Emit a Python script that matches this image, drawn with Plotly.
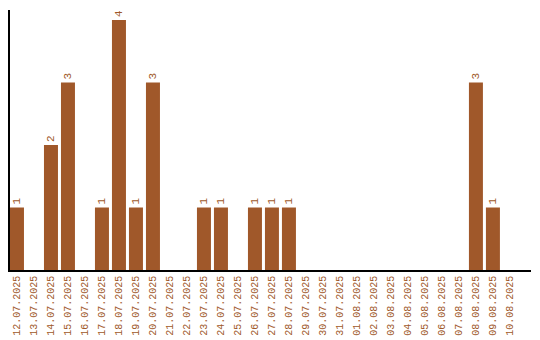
import plotly.graph_objects as go

dates = ["12.07.2025","13.07.2025","14.07.2025","15.07.2025","16.07.2025","17.07.2025",
         "18.07.2025","19.07.2025","20.07.2025","21.07.2025","22.07.2025","23.07.2025",
         "24.07.2025","25.07.2025","26.07.2025","27.07.2025","28.07.2025","29.07.2025",
         "30.07.2025","31.07.2025","01.08.2025","02.08.2025","03.08.2025","04.08.2025",
         "05.08.2025","06.08.2025","07.08.2025","08.08.2025","09.08.2025","10.08.2025"]
counts = [1,0,2,3,0,1,4,1,3,0,0,1,1,0,1,1,1,0,0,0,0,0,0,0,0,0,0,3,1,0]

color = "#A0582A"
labels = [str(v) if v > 0 else "" for v in counts]
font = "Liberation Mono"

fig = go.Figure(go.Bar(
    x=dates, y=counts, marker_color=color, marker_line_width=0,
    text=labels, textposition="outside", textangle=-90,
    textfont=dict(family=font, size=11, color=color),
    cliponaxis=False, width=14/17,
))
fig.update_layout(
    width=540, height=340, margin=dict(l=10, r=9, t=10, b=70),
    plot_bgcolor="white", paper_bgcolor="white", showlegend=False,
    xaxis=dict(type="category", range=[-0.41, 30.24], showline=True, linecolor="black",
               linewidth=1.5, tickangle=-90, ticks="", showgrid=False, automargin=False,
               tickfont=dict(family=font, size=10, color=color)),
    yaxis=dict(range=[0, 4.16], showline=True, linecolor="black", linewidth=1.5,
               showticklabels=False, ticks="", showgrid=False, zeroline=False,
               automargin=False),
    uniformtext=dict(minsize=11, mode="show"),
)
fig.write_html("out.html")
